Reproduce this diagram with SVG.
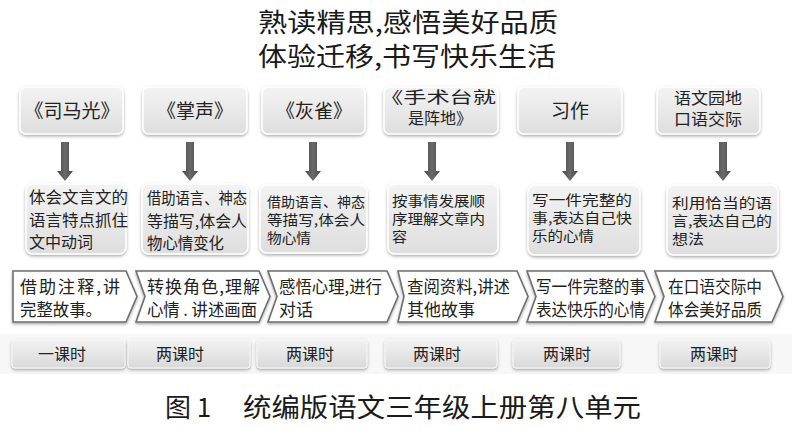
<svg xmlns="http://www.w3.org/2000/svg" width="800" height="429" viewBox="0 0 800 429">
<defs>
<linearGradient id="gBox" x1="0" y1="0" x2="0" y2="1">
<stop offset="0" stop-color="#f3f3f3"/>
<stop offset="1" stop-color="#dedede"/>
</linearGradient>
<linearGradient id="gBtn" x1="0" y1="0" x2="0" y2="1">
<stop offset="0" stop-color="#f2f2f2"/>
<stop offset="1" stop-color="#d9d9d9"/>
</linearGradient>
<linearGradient id="gArr" x1="0" y1="0" x2="1" y2="0">
<stop offset="0" stop-color="#4a4a4a"/>
<stop offset="0.5" stop-color="#6a6a6a"/>
<stop offset="1" stop-color="#4a4a4a"/>
</linearGradient>
<filter id="sh" x="-10%" y="-10%" width="120%" height="130%">
<feDropShadow dx="0" dy="1.5" stdDeviation="1.6" flood-color="#000" flood-opacity="0.35"/>
</filter>
<path id="arrow" d="M-4,0 L4,0 L4,29 L8,29 L0,39 L-8,29 L-4,29 Z"/>
</defs>
<style>
text{font-family:"Noto Sans CJK SC","Noto Sans",sans-serif;fill:#222;}
.title{font-size:26px;fill:#1a1a1a;}
.cap{font-size:26px;fill:#1a1a1a;}
.box{fill:url(#gBox);stroke:#ffffff;stroke-width:1.5;filter:url(#sh);}
.btn{fill:url(#gBtn);stroke:#f8f8f8;stroke-width:1;filter:url(#sh);}
.chev{fill:#ffffff;stroke:#6e6e6e;stroke-width:1.6;filter:url(#sh);}
.h{font-size:19px;text-anchor:middle;}
.h2{font-size:16px;text-anchor:middle;}
.t{font-size:16px;}
.s{font-size:14px;}
.c{font-size:17px;}
.b{font-size:16px;text-anchor:middle;}
.arr{fill:url(#gArr);}
</style>
<rect width="800" height="429" fill="#ffffff"/>

<g id="title">
<text class="title" x="258" y="32" textLength="300" lengthAdjust="spacingAndGlyphs">熟读精思,感悟美好品质</text>
<text class="title" x="258" y="66" textLength="298" lengthAdjust="spacingAndGlyphs">体验迁移,书写快乐生活</text>
</g>

<rect x="0" y="334" width="792" height="40" fill="#f7f7f7"/>

<g id="lesson1">
<rect class="box" x="20" y="87" width="103" height="47" rx="6"/>
<text class="h" x="72" y="118">《司马光》</text>
</g>
<g id="lesson2">
<rect class="box" x="143" y="87" width="104" height="47" rx="6"/>
<text class="h" x="195" y="118">《掌声》</text>
</g>
<g id="lesson3">
<rect class="box" x="262" y="87" width="103" height="47" rx="6"/>
<text class="h" x="314" y="118">《灰雀》</text>
</g>
<g id="lesson4">
<rect class="box" x="384" y="87" width="114" height="47" rx="6"/>
<text class="h2" x="438" y="103" textLength="116" lengthAdjust="spacingAndGlyphs">《手术台就</text>
<text class="h2" x="440" y="124">是阵地》</text>
</g>
<g id="lesson5">
<rect class="box" x="518" y="87" width="104" height="47" rx="6"/>
<text class="h" x="570" y="118">习作</text>
</g>
<g id="lesson6">
<rect class="box" x="657" y="87" width="103" height="47" rx="6"/>
<text class="h2" x="708" y="104" textLength="68" lengthAdjust="spacingAndGlyphs">语文园地</text>
<text class="h2" x="708" y="125" textLength="68" lengthAdjust="spacingAndGlyphs">口语交际</text>
</g>

<g id="connectors">
<use class="arr" href="#arrow" x="65" y="142"/>
<use class="arr" href="#arrow" x="190" y="142"/>
<use class="arr" href="#arrow" x="313" y="142"/>
<use class="arr" href="#arrow" x="432" y="142"/>
<use class="arr" href="#arrow" x="570" y="142"/>
<use class="arr" href="#arrow" x="723" y="142"/>
</g>

<g id="goal1">
<rect class="box" x="26" y="184" width="100" height="70" rx="7"/>
<text class="t" x="29" y="203" textLength="99" lengthAdjust="spacingAndGlyphs">体会文言文的</text>
<text class="t" x="29" y="226" textLength="99" lengthAdjust="spacingAndGlyphs">语言特点抓住</text>
<text class="t" x="29" y="248" textLength="64" lengthAdjust="spacingAndGlyphs">文中动词</text>
</g>
<g id="goal2">
<rect class="box" x="142" y="184" width="106" height="70" rx="7"/>
<text class="t" x="147" y="204" textLength="100" lengthAdjust="spacingAndGlyphs">借助语言、神态</text>
<text class="t" x="147" y="227" textLength="100" lengthAdjust="spacingAndGlyphs">等描写,体会人</text>
<text class="t" x="147" y="249" textLength="77" lengthAdjust="spacingAndGlyphs">物心情变化</text>
</g>
<g id="goal3">
<rect class="box" x="260" y="185" width="107" height="68" rx="7"/>
<text class="s" x="267" y="207" textLength="98" lengthAdjust="spacingAndGlyphs">借助语言、神态</text>
<text class="s" x="267" y="225" textLength="98" lengthAdjust="spacingAndGlyphs">等描写,体会人</text>
<text class="s" x="267" y="243" textLength="44" lengthAdjust="spacingAndGlyphs">物心情</text>
</g>
<g id="goal4">
<rect class="box" x="388" y="184" width="110" height="70" rx="7"/>
<text class="s" x="392" y="206" textLength="93" lengthAdjust="spacingAndGlyphs">按事情发展顺</text>
<text class="s" x="392" y="224" textLength="93" lengthAdjust="spacingAndGlyphs">序理解文章内</text>
<text class="s" x="392" y="242" textLength="15" lengthAdjust="spacingAndGlyphs">容</text>
</g>
<g id="goal5">
<rect class="box" x="528" y="185" width="112" height="70" rx="7"/>
<text class="s" x="532" y="205" textLength="100" lengthAdjust="spacingAndGlyphs">写一件完整的</text>
<text class="s" x="532" y="223" textLength="100" lengthAdjust="spacingAndGlyphs">事,表达自己快</text>
<text class="s" x="532" y="241" textLength="62" lengthAdjust="spacingAndGlyphs">乐的心情</text>
</g>
<g id="goal6">
<rect class="box" x="667" y="185" width="111" height="70" rx="7"/>
<text class="s" x="672" y="208" textLength="100" lengthAdjust="spacingAndGlyphs">利用恰当的语</text>
<text class="s" x="672" y="226" textLength="100" lengthAdjust="spacingAndGlyphs">言,表达自己的</text>
<text class="s" x="672" y="244" textLength="32" lengthAdjust="spacingAndGlyphs">想法</text>
</g>

<g id="step1">
<path class="chev" d="M13,271 L126,271 L137,296.5 L126,322 L13,322 Z"/>
<text class="c" x="20" y="293" textLength="100" lengthAdjust="spacing">借助注释,讲</text>
<text class="c" x="20" y="316" textLength="82" lengthAdjust="spacingAndGlyphs">完整故事。</text>
</g>
<g id="step2">
<path class="chev" d="M136,271 L259,271 L270,296.5 L259,322 L136,322 L145,296.5 Z"/>
<text class="c" x="147" y="293" textLength="113" lengthAdjust="spacing">转换角色,理解</text>
<text class="c" x="147" y="316" textLength="110" lengthAdjust="spacingAndGlyphs">心情 . 讲述画面</text>
</g>
<g id="step3">
<path class="chev" d="M268,271 L387,271 L398,296.5 L387,322 L268,322 L277,296.5 Z"/>
<text class="c" x="279" y="293" textLength="103" lengthAdjust="spacingAndGlyphs">感悟心理,进行</text>
<text class="c" x="279" y="316" textLength="34" lengthAdjust="spacingAndGlyphs">对话</text>
</g>
<g id="step4">
<path class="chev" d="M398,271 L517,271 L528,296.5 L517,322 L398,322 L404,296.5 Z"/>
<text class="c" x="407" y="293" textLength="103" lengthAdjust="spacingAndGlyphs">查阅资料,讲述</text>
<text class="c" x="407" y="316" textLength="68" lengthAdjust="spacingAndGlyphs">其他故事</text>
</g>
<g id="step5">
<path class="chev" d="M527,271 L644,271 L655,296.5 L644,322 L527,322 L536,296.5 Z"/>
<text class="c" x="536" y="293" textLength="109" lengthAdjust="spacingAndGlyphs">写一件完整的事</text>
<text class="c" x="536" y="316" textLength="109" lengthAdjust="spacingAndGlyphs">表达快乐的心情</text>
</g>
<g id="step6">
<path class="chev" d="M655,271 L772,271 L783,296.5 L772,322 L655,322 L664,296.5 Z"/>
<text class="c" x="668" y="293" textLength="94" lengthAdjust="spacingAndGlyphs">在口语交际中</text>
<text class="c" x="668" y="316" textLength="94" lengthAdjust="spacingAndGlyphs">体会美好品质</text>
</g>

<g id="hours1">
<rect class="btn" x="12" y="340" width="113" height="28" rx="3"/>
<text class="b" x="62" y="360">一课时</text>
</g>
<g id="hours2">
<rect class="btn" x="128" y="340" width="122" height="28" rx="3"/>
<text class="b" x="180" y="360">两课时</text>
</g>
<g id="hours3">
<rect class="btn" x="257" y="340" width="110" height="28" rx="3"/>
<text class="b" x="310" y="360">两课时</text>
</g>
<g id="hours4">
<rect class="btn" x="385" y="340" width="112" height="28" rx="3"/>
<text class="b" x="437" y="360">两课时</text>
</g>
<g id="hours5">
<rect class="btn" x="513" y="340" width="107" height="28" rx="3"/>
<text class="b" x="567" y="360">两课时</text>
</g>
<g id="hours6">
<rect class="btn" x="660" y="340" width="110" height="28" rx="3"/>
<text class="b" x="714" y="360">两课时</text>
</g>

<g id="caption">
<text class="cap" x="165" y="417">图 1</text>
<text class="cap" x="243" y="417" textLength="398" lengthAdjust="spacingAndGlyphs">统编版语文三年级上册第八单元</text>
</g>
</svg>
